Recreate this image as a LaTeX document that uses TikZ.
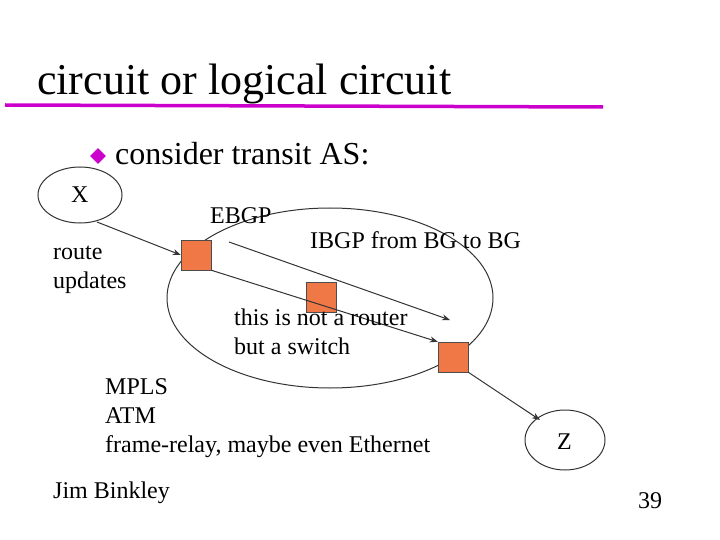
\documentclass[tikz,border=0pt]{standalone}
\usepackage{fontspec}
\setmainfont{Liberation Serif}
\usetikzlibrary{arrows.meta,shapes.geometric}
\definecolor{mag}{RGB}{204,0,204}
\definecolor{sq}{RGB}{240,120,70}
\begin{document}
\begin{tikzpicture}[x=1pt,y=-1pt,
  txt/.style={inner sep=0pt,anchor=base west,font=\fontsize{24}{24}\selectfont},
  box/.style={draw=black!70,fill=sq,minimum size=30pt,inner sep=0pt},
  arr/.style={draw=black!80,line width=1pt,-{Stealth[length=8pt,width=6pt]}}]
\useasboundingbox (0,0) rectangle (720,540);
\node[txt,font=\fontsize{44}{44}\selectfont] (title) at (37,95) {circuit or logical circuit};
\draw[mag,line width=3.5pt] (5,105) -- (603,107);
\node[fill=mag,diamond,inner sep=0pt,minimum size=16pt] (bul) at (98,156) {};
\node[txt,font=\fontsize{32}{32}\selectfont] (cons) at (115,165) {consider transit AS:};
\draw[black!80,line width=1pt] (80,195) ellipse (42 and 28);
\node[txt] (x) at (71,203) {X};
\draw[black!80,line width=1pt] (330,298) ellipse (163 and 90);
\draw[black!80,line width=1pt] (565,440) ellipse (40 and 30);
\node[txt] (z) at (557,449) {Z};
\node[box] (s1) at (196,255) {};
\node[box] (s2) at (321,297) {};
\node[box] (s3) at (453,357) {};
\coordinate (a0) at (97,222);
\coordinate (b0) at (229,242);
\coordinate (b1) at (450,320);
\coordinate (c1) at (540,420);
\draw[arr] (a0) -- (s1.west);
\draw[arr] (b0) -- (b1);
\draw[arr] (s1.south east) -- (s3.north west);
\draw[arr] (s3.south east) -- (c1);
\node[txt] (ebgp) at (210,223) {EBGP};
\node[txt] (ibgp) at (310,248) {IBGP from BG to BG};
\node[txt] (ru1) at (53,259) {route};
\node[txt] (ru2) at (53,288) {updates};
\node[txt] (n1) at (234,325) {this is not a router};
\node[txt] (n2) at (234,354) {but a switch};
\node[txt] (m1) at (105,394) {MPLS};
\node[txt] (m2) at (105,423) {ATM};
\node[txt] (m3) at (105,452) {frame-relay, maybe even Ethernet};
\node[txt] (jb) at (53,498) {Jim Binkley};
\node[txt] (pg) at (638,508) {39};
\end{tikzpicture}
\end{document}
